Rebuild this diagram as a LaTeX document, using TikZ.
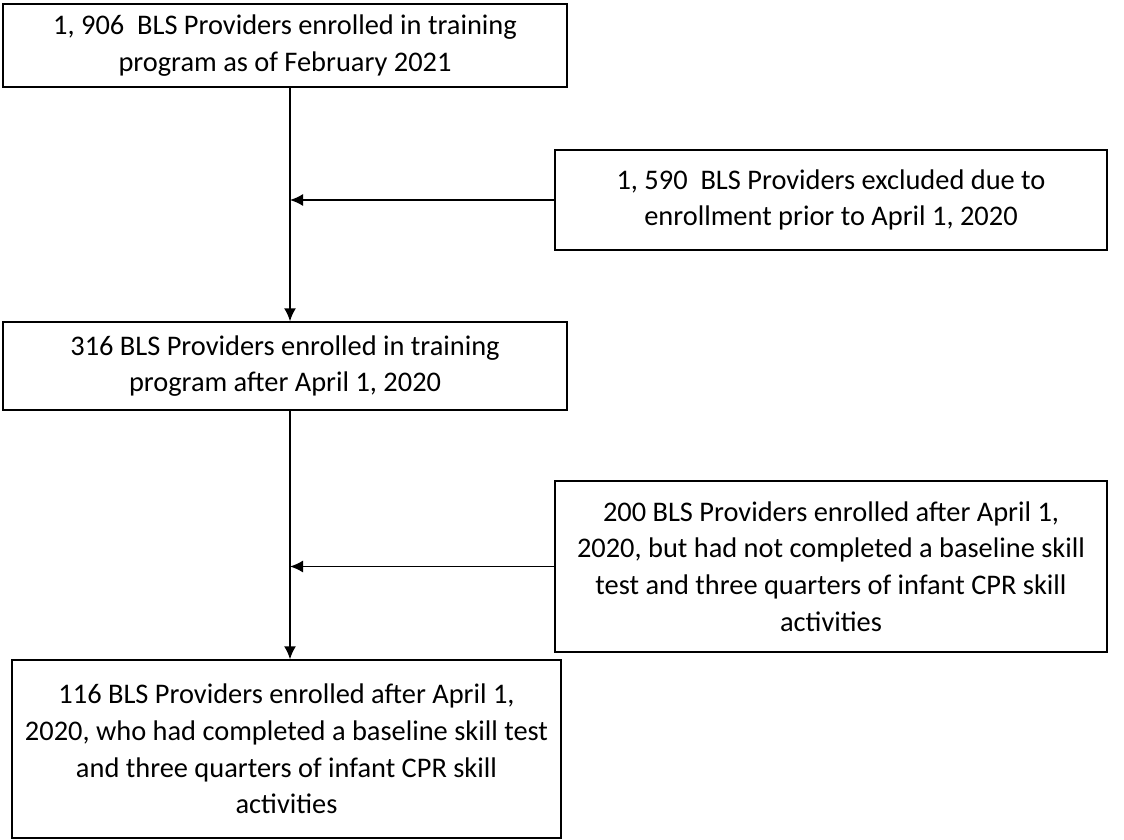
\documentclass[tikz,border=0pt]{standalone}
\usepackage{fontspec}
\setmainfont{Carlito}
\usetikzlibrary{calc, arrows.meta, positioning}
\tikzset{>=latex,
  flowbox/.style={draw, line width=0.75pt, rectangle, align=center, inner sep=0pt,
    font=\fontsize{14.2}{18.4}\selectfont},
  flowline/.style={line width=0.75pt, -{Latex[length=6.5pt,width=6pt]}}}

\begin{document}
\begin{tikzpicture}[x=0.5pt, y=-0.5pt]
\useasboundingbox (0,0) rectangle (1124,840);
% main column
\node[flowbox, minimum width=282pt, minimum height=41.5pt] (enrolled) at (285,45.5)
  {1, 906\ \ BLS Providers enrolled in training\\program as of February 2021};
\node[flowbox, minimum width=282pt, minimum height=44pt] (after) at (285,366)
  {316 BLS Providers enrolled in training\\program after April 1, 2020};
\node[flowbox, minimum width=274.5pt, minimum height=89pt] (final) at (286.5,749)
  {116 BLS Providers enrolled after April 1,\\2020, who had completed a baseline skill test\\and three quarters of infant CPR skill\\activities};
% exclusions
\node[flowbox, minimum width=276pt, minimum height=50pt] (prior) at (831,200)
  {1, 590\ \ BLS Providers excluded due to\\enrollment prior to April 1, 2020};
\node[flowbox, minimum width=276pt, minimum height=85.5pt] (incomplete) at (831,566.5)
  {200 BLS Providers enrolled after April 1,\\2020, but had not completed a baseline skill\\test and three quarters of infant CPR skill\\activities};
% arrows
\coordinate (trunk) at ([xshift=2.5pt]enrolled.south);
\draw[flowline] (trunk) -- (trunk |- after.north);
\draw[flowline] (trunk |- after.south) -- (trunk |- final.north);
\draw[flowline] (prior.west) -- (prior.west -| trunk);
\draw[flowline] (incomplete.west) -- (incomplete.west -| trunk);
\end{tikzpicture}
\end{document}
